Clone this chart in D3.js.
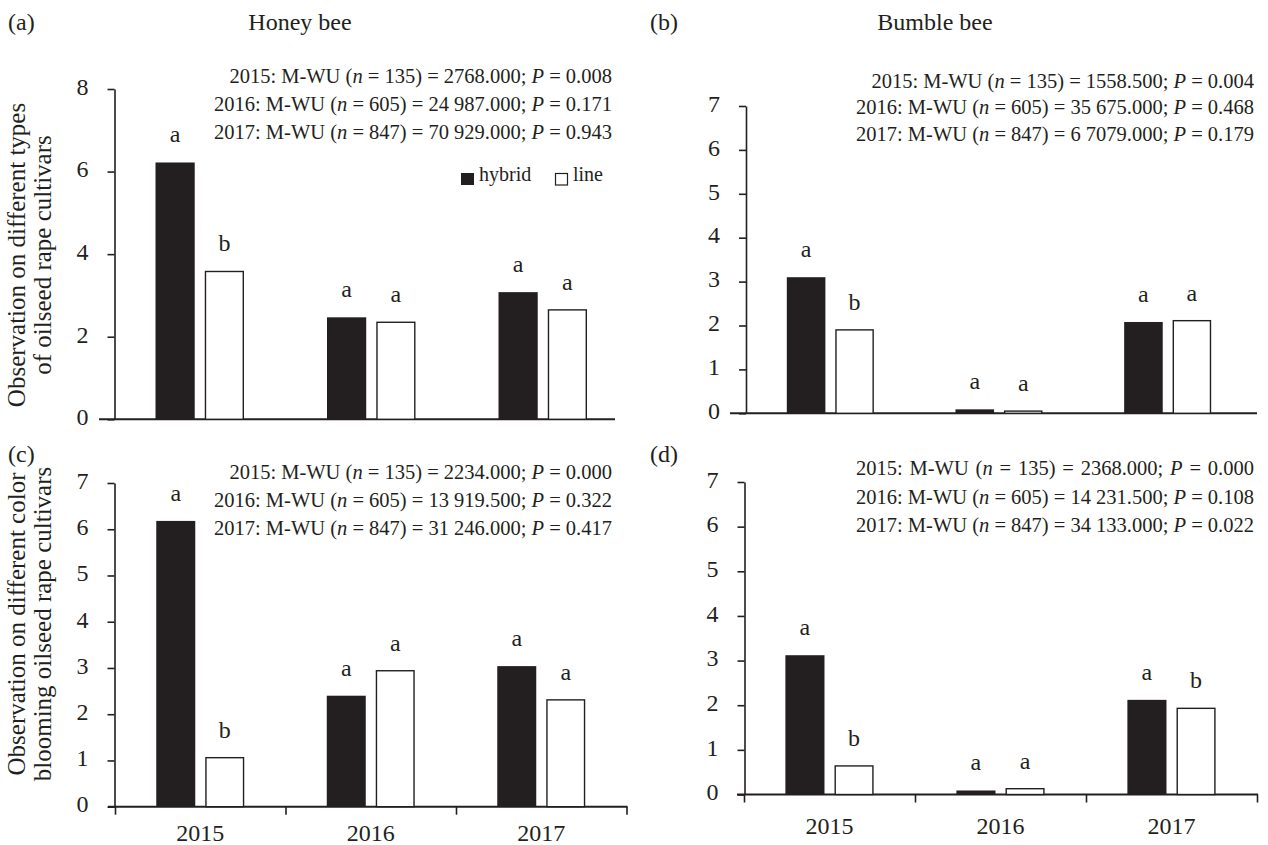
<!DOCTYPE html>
<html><head><meta charset="utf-8">
<script src="https://cdn.jsdelivr.net/npm/d3@7"></script>
<style>
body{margin:0;background:#fff}
text{font-family:"Liberation Serif","Times New Roman",serif;fill:#231f20}
</style>
</head><body>
<svg id="chart" width="1268" height="845"></svg>
<script>
// ---------- data ----------
const years = ["2015", "2016", "2017"];
const seriesNames = ["hybrid", "line"];

const honeyTypeHybrid = [6.22, 2.47, 3.08];
const honeyTypeLine   = [3.58, 2.35, 2.65];
const bumbleTypeHybrid = [3.10, 0.09, 2.08];
const bumbleTypeLine   = [1.90, 0.05, 2.11];
const honeyColorHybrid = [6.18, 2.40, 3.04];
const honeyColorLine   = [1.06, 2.94, 2.31];
const bumbleColorHybrid = [3.12, 0.09, 2.12];
const bumbleColorLine   = [0.64, 0.13, 1.93];

const lettersAHybrid = ["a", "a", "a"], lettersALine = ["b", "a", "a"];
const lettersBHybrid = ["a", "a", "a"], lettersBLine = ["b", "a", "a"];
const lettersCHybrid = ["a", "a", "a"], lettersCLine = ["b", "a", "a"];
const lettersDHybrid = ["a", "a", "a"], lettersDLine = ["b", "a", "b"];

const ticksA = [0, 2, 4, 6, 8];
const ticksBCD = [0, 1, 2, 3, 4, 5, 6, 7];

// [year, n, statistic, P]
const statsA = [["2015", "135", "2768.000", "0.008"], ["2016", "605", "24 987.000", "0.171"], ["2017", "847", "70 929.000", "0.943"]];
const statsB = [["2015", "135", "1558.500", "0.004"], ["2016", "605", "35 675.000", "0.468"], ["2017", "847", "6 7079.000", "0.179"]];
const statsC = [["2015", "135", "2234.000", "0.000"], ["2016", "605", "13 919.500", "0.322"], ["2017", "847", "31 246.000", "0.417"]];
const statsD = [["2015", "135", "2368.000", "0.000"], ["2016", "605", "14 231.500", "0.108"], ["2017", "847", "34 133.000", "0.022"]];

const yLabelTop = ["Observation on different types", "of oilseed rape cultivars"];
const yLabelBottom = ["Observation on different color", "blooming oilseed rape cultivars"];

// ---------- drawing ----------
const svg = d3.select("#chart");
const INK = "#231f20";
const FS = 24;
const FS_STAT = 20.5;

function drawPanel(c) {
  const g = svg.append("g");
  const y = d3.scaleLinear().domain([0, c.yMax]).range([c.y0, c.yTop]);
  const x0 = d3.scaleBand().domain(years).range([c.bx0, c.bx1]).paddingInner(0.484).paddingOuter(0.242);
  const x1 = d3.scaleBand().domain(seriesNames).range([0, x0.bandwidth()]).paddingInner(0.204);

  const rows = [];
  years.forEach((yr, i) => {
    rows.push({yr, s: "hybrid", v: c.hybrid[i], l: c.lh[i]});
    rows.push({yr, s: "line", v: c.line[i], l: c.ll[i]});
  });

  // x axis line
  g.append("line").attr("x1", c.xl0).attr("x2", c.xl1).attr("y1", c.y0).attr("y2", c.y0)
    .attr("stroke", INK).attr("stroke-width", 2);

  // bars
  g.selectAll("rect.bar").data(rows).join("rect")
    .attr("x", d => x0(d.yr) + x1(d.s) + (d.s === "line" ? 0.7 : 0))
    .attr("width", d => x1.bandwidth() - (d.s === "line" ? 1.4 : 0))
    .attr("y", d => y(d.v))
    .attr("height", d => c.y0 - y(d.v))
    .attr("fill", d => d.s === "hybrid" ? INK : "#fff")
    .attr("stroke", INK)
    .attr("stroke-width", d => d.s === "hybrid" ? 0 : 1.4);

  // significance letters
  g.selectAll("text.let").data(rows).join("text")
    .attr("x", d => x0(d.yr) + x1(d.s) + x1.bandwidth() / 2)
    .attr("y", d => y(d.v) - 20)
    .attr("text-anchor", "middle").attr("font-size", FS)
    .text(d => d.l);

  // y axis
  const ya = g.append("g").attr("transform", `translate(${c.ax},0)`)
    .call(d3.axisLeft(y).tickValues(c.ticks).tickSize(7).tickPadding(19).tickSizeOuter(0).tickFormat(d3.format("d")));
  ya.select(".domain").attr("stroke", INK).attr("stroke-width", 1.6);
  ya.selectAll(".tick line").attr("stroke", INK).attr("stroke-width", 1.6);
  ya.selectAll(".tick text").attr("font-size", FS).attr("font-family", "Liberation Serif").attr("fill", INK).attr("dy", "0.22em");

  // bottom axis with year labels
  if (c.years) {
    const bnd = d3.scaleLinear().domain([0, years.length]).range([c.bx0, c.bx1]);
    const xb = g.append("g").attr("transform", `translate(0,${c.y0})`)
      .call(d3.axisBottom(bnd).tickValues(d3.range(years.length + 1)).tickFormat("").tickSize(8).tickSizeOuter(0));
    xb.select(".domain").remove();
    xb.selectAll(".tick line").attr("stroke", INK).attr("stroke-width", 1.6);
    const xl = g.append("g").attr("transform", `translate(0,${c.y0})`)
      .call(d3.axisBottom(x0).tickSize(0).tickPadding(c.yearPad));
    xl.select(".domain").remove();
    xl.selectAll(".tick text").attr("font-size", FS).attr("font-family", "Liberation Serif").attr("fill", INK);
  }

  // panel tag + title
  g.append("text").attr("x", c.tagX).attr("y", c.tagY).attr("font-size", FS).text(c.tag);
  if (c.title) g.append("text").attr("x", c.titleX).attr("y", c.tagY).attr("text-anchor", "middle").attr("font-size", FS).text(c.title);

  // statistics
  const st = g.append("g");
  const lines = c.stats.map((s, i) => {
    const t = st.append("text").attr("x", c.statX).attr("y", c.statY[i]).attr("text-anchor", "end").attr("font-size", FS_STAT);
    t.append("tspan").text(`${s[0]}: M-WU (`);
    t.append("tspan").attr("font-style", "italic").text("n");
    t.append("tspan").text(` = ${s[1]}) = ${s[2]}; `);
    t.append("tspan").attr("font-style", "italic").text("P");
    t.append("tspan").text(` = ${s[3]}`);
    return t;
  });
  if (c.justify) {
    const target = Math.max(lines[1].node().getComputedTextLength(), lines[2].node().getComputedTextLength());
    const w0 = lines[0].node().getComputedTextLength();
    const nSpaces = (`${c.stats[0][0]}: M-WU (n = ${c.stats[0][1]}) = ${c.stats[0][2]}; P = ${c.stats[0][3]}`.match(/ /g) || []).length;
    lines[0].attr("word-spacing", (target - w0) / nSpaces);
  }

  // legend
  if (c.legend) {
    const lg = g.append("g");
    lg.append("rect").attr("x", 461).attr("y", 173).attr("width", 13).attr("height", 12).attr("fill", INK);
    lg.append("text").attr("x", 479).attr("y", 181).attr("font-size", 20).text(seriesNames[0]);
    lg.append("rect").attr("x", 555.5).attr("y", 173.5).attr("width", 12).attr("height", 11.5).attr("fill", "#fff").attr("stroke", INK).attr("stroke-width", 1.2);
    lg.append("text").attr("x", 573).attr("y", 181).attr("font-size", 20).text(seriesNames[1]);
  }
}

drawPanel({tag: "(a)", tagX: 8, tagY: 30, title: "Honey bee", titleX: 300,
  hybrid: honeyTypeHybrid, line: honeyTypeLine, lh: lettersAHybrid, ll: lettersALine,
  yMax: 8, ticks: ticksA, y0: 419.3, yTop: 89, ax: 114.5, bx0: 114, bx1: 628.5, xl0: 99, xl1: 615,
  stats: statsA, statX: 612, statY: [83, 111, 139], legend: true});

drawPanel({tag: "(b)", tagX: 650, tagY: 30, title: "Bumble bee", titleX: 935,
  hybrid: bumbleTypeHybrid, line: bumbleTypeLine, lh: lettersBHybrid, ll: lettersBLine,
  yMax: 7, ticks: ticksBCD, y0: 413.3, yTop: 106, ax: 746, bx0: 746, bx1: 1252, xl0: 730, xl1: 1257,
  stats: statsB, statX: 1254, statY: [88, 114, 141]});

drawPanel({tag: "(c)", tagX: 8, tagY: 462,
  hybrid: honeyColorHybrid, line: honeyColorLine, lh: lettersCHybrid, ll: lettersCLine,
  yMax: 7, ticks: ticksBCD, y0: 806.7, yTop: 483, ax: 114.5, bx0: 115, bx1: 626.5, xl0: 108, xl1: 627.5,
  stats: statsC, statX: 612, statY: [479, 507, 535], years: true, yearPad: 17});

drawPanel({tag: "(d)", tagX: 650, tagY: 462,
  hybrid: bumbleColorHybrid, line: bumbleColorLine, lh: lettersDHybrid, ll: lettersDLine,
  yMax: 7, ticks: ticksBCD, y0: 794.5, yTop: 482, ax: 744.5, bx0: 744, bx1: 1257, xl0: 737, xl1: 1258,
  stats: statsD, statX: 1254, statY: [475, 504, 532], years: true, yearPad: 22, justify: true});

// y-axis titles
function yTitle(lines, cy) {
  const t = svg.append("text").attr("transform", `translate(0,${cy}) rotate(-90)`)
    .attr("text-anchor", "middle").attr("font-size", 25);
  lines.forEach((s, i) => t.append("tspan").attr("x", 0).attr("y", 25 + i * 26).text(s));
}
yTitle(yLabelTop, 255);
yTitle(yLabelBottom, 624);
</script>
</body></html>
